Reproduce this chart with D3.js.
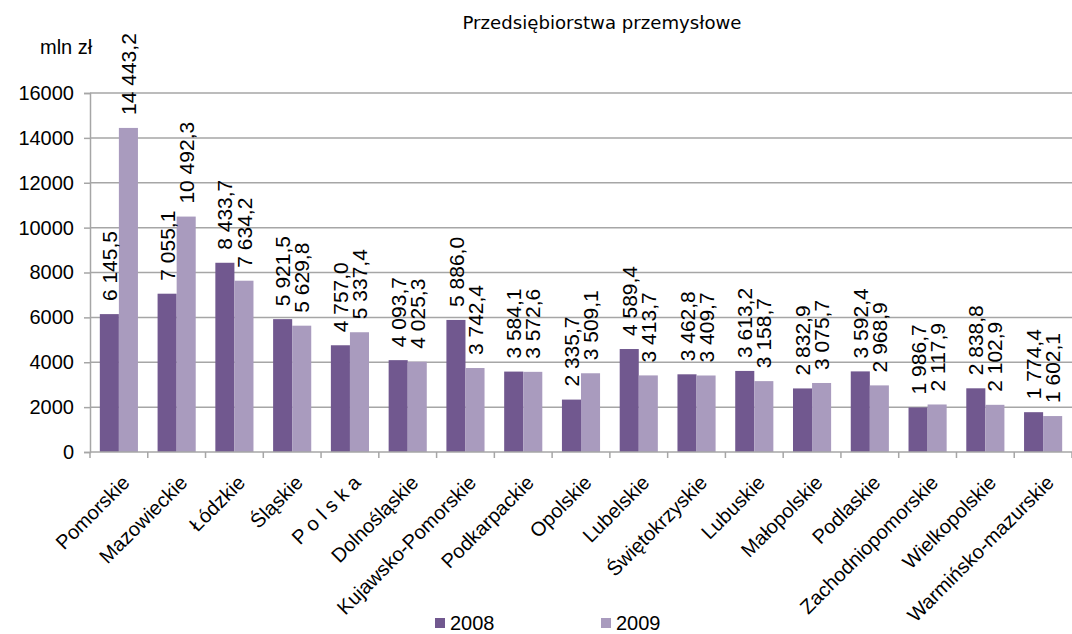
<!DOCTYPE html>
<html><head><meta charset="utf-8">
<script src="https://cdn.jsdelivr.net/npm/d3@7"></script>
<style>
body{margin:0;background:#fff;}
svg{display:block;font-family:"Liberation Sans",Arial,sans-serif;}
</style></head>
<body>
<svg id="chart" width="1072" height="634"></svg>
<script>
const categories = ["Pomorskie","Mazowieckie","Łódzkie","Śląskie","P o l s k a","Dolnośląskie","Kujawsko-Pomorskie","Podkarpackie","Opolskie","Lubelskie","Świętokrzyskie","Lubuskie","Małopolskie","Podlaskie","Zachodniopomorskie","Wielkopolskie","Warmińsko-mazurskie"];
const values2008 = [6145.5,7055.1,8433.7,5921.5,4757.0,4093.7,5886.0,3584.1,2335.7,4589.4,3462.8,3613.2,2832.9,3592.4,1986.7,2838.8,1774.4];
const values2009 = [14443.2,10492.3,7634.2,5629.8,5337.4,4025.3,3742.4,3572.6,3509.1,3413.7,3409.7,3158.7,3075.7,2968.9,2117.9,2102.9,1602.1];
const seriesNames = ["2008","2009"];
const yTicks = [0,2000,4000,6000,8000,10000,12000,14000,16000];
const chartTitle = "Przedsiębiorstwa przemysłowe";
const unitLabel = "mln zł";

const colors = ["#71588f","#a99bbe"];
const svg = d3.select("#chart");
const mLeft = 90, mRight = 1072, mTop = 93, mBottom = 452;

const x = d3.scaleBand().domain(categories).range([mLeft, mRight]).paddingInner(0.34).paddingOuter(0.17);
const x0 = d3.scaleBand().domain(categories).range([mLeft, mRight]).padding(0);
const xs = d3.scaleBand().domain(seriesNames).range([0, x.bandwidth()]);
const y = d3.scaleLinear().domain([0,16000]).range([mBottom, mTop]);

// gridlines
svg.append("g").selectAll("line").data(yTicks.slice(1)).join("line")
  .attr("x1", mLeft).attr("x2", mRight)
  .attr("y1", d=>y(d)).attr("y2", d=>y(d))
  .attr("stroke", "#a6a6a6").attr("stroke-width", 1.5);

// y axis
const yAxis = svg.append("g").attr("transform", `translate(${mLeft},0)`)
  .call(d3.axisLeft(y).tickValues(yTicks).tickSize(6).tickPadding(10).tickFormat(d3.format("d")));
yAxis.select(".domain").attr("stroke","#a6a6a6").attr("stroke-width",1.5);
yAxis.selectAll(".tick line").attr("stroke","#a6a6a6").attr("stroke-width",1.5);
yAxis.selectAll("text").attr("font-size", 20).attr("fill","#000")
  .attr("font-family","'Liberation Sans',Arial,sans-serif");

// bars
const fmt = d3.formatLocale({decimal:",", thousands:" ", grouping:[3], currency:["",""]}).format(",.1f");
const data = [];
categories.forEach((c,i)=>{
  data.push({c, s:"2008", v:values2008[i], k:0});
  data.push({c, s:"2009", v:values2009[i], k:1});
});
svg.append("g").selectAll("rect").data(data).join("rect")
  .attr("x", d=>x(d.c)+xs(d.s))
  .attr("width", xs.bandwidth())
  .attr("y", d=>y(d.v))
  .attr("height", d=>y(0)-y(d.v))
  .attr("fill", d=>colors[d.k]);

// x axis
const xAxis = svg.append("g").attr("transform", `translate(0,${mBottom})`);
xAxis.append("line").attr("x1",mLeft).attr("x2",mRight).attr("y1",0).attr("y2",0)
  .attr("stroke","#a6a6a6").attr("stroke-width",1.5);
xAxis.selectAll("line.tk").data(categories.concat(["__end"])).join("line").attr("class","tk")
  .attr("x1", (d,i)=> i<categories.length ? x0(d) : mRight)
  .attr("x2", (d,i)=> i<categories.length ? x0(d) : mRight)
  .attr("y1",0).attr("y2",6).attr("stroke","#a6a6a6").attr("stroke-width",1.5);
xAxis.selectAll("text.lbl").data(categories).join("text").attr("class","lbl")
  .attr("transform", d=>`translate(${x(d)+x.bandwidth()/2+2},${22}) rotate(-45)`)
  .attr("text-anchor","end").attr("dy","0.7em")
  .attr("font-size",20).attr("fill","#000")
  .text(d=>d);

// value labels
svg.append("g").selectAll("text").data(data).join("text")
  .attr("transform", d=>`translate(${x(d.c)+xs(d.s)+xs.bandwidth()/2},${y(d.v)-13}) rotate(-90)`)
  .attr("dy","0.36em")
  .attr("font-size",21).attr("fill","#000")
  .text(d=>fmt(d.v));

// title & unit
svg.append("text").attr("x",602).attr("y",29).attr("text-anchor","middle")
  .attr("font-family","'DejaVu Sans',sans-serif").attr("font-size",17).attr("fill","#000")
  .attr("textLength",279).attr("lengthAdjust","spacingAndGlyphs")
  .text(chartTitle);
svg.append("text").attr("x",40).attr("y",54).attr("font-size",20).attr("fill","#000").text(unitLabel);

// legend
const legendX = [435, 601];
const lg = svg.append("g").selectAll("g").data(seriesNames).join("g")
  .attr("transform",(d,i)=>`translate(${legendX[i]},618)`);
lg.append("rect").attr("width",10).attr("height",10).attr("fill",(d,i)=>colors[i]);
lg.append("text").attr("x",15).attr("y",12).attr("font-size",20).attr("fill","#000").text(d=>d);
</script>
</body></html>
